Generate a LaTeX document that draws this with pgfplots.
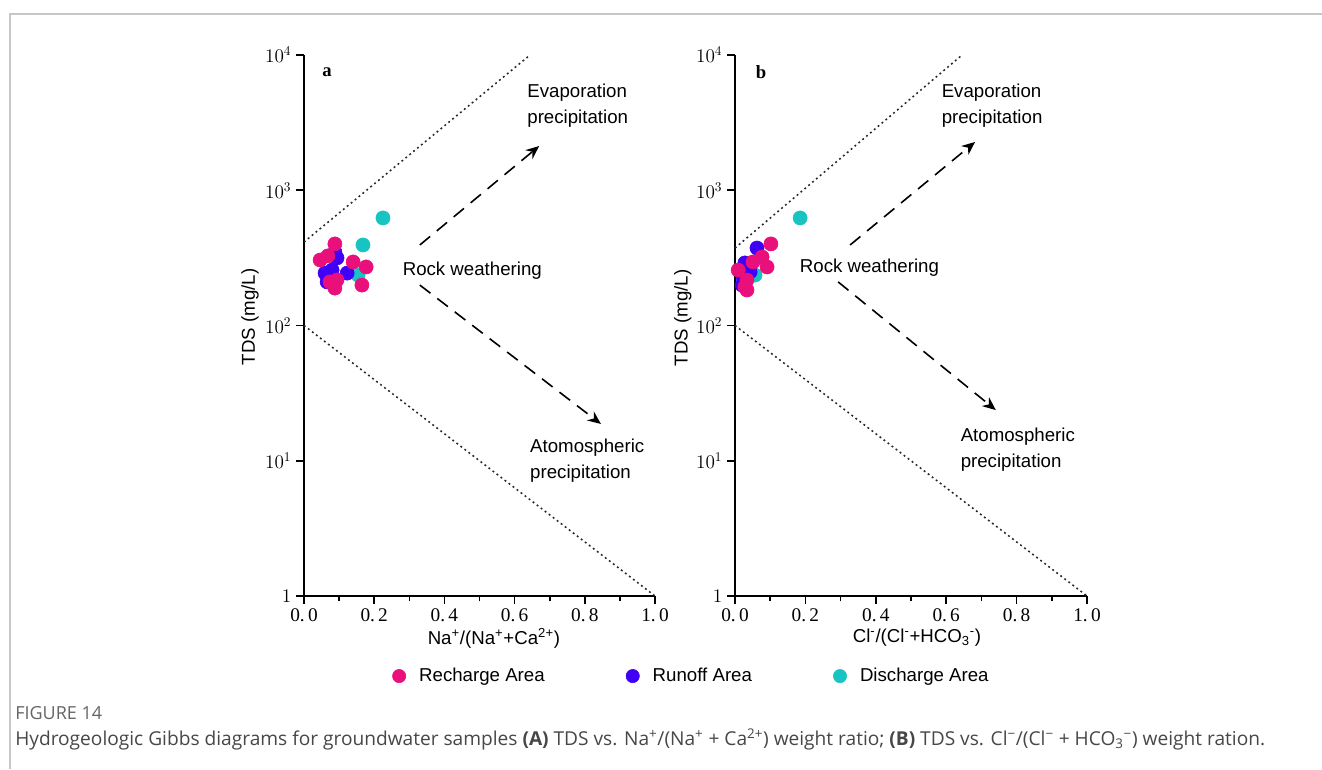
\documentclass[border=0pt]{standalone}
\usepackage{fontspec}
\setmainfont{Liberation Sans}
\newfontfamily\capfont{Open Sans}
\newfontfamily\serifnum{Liberation Serif}
\usepackage{pgfplots}
\pgfplotsset{compat=1.18}
\usetikzlibrary{arrows.meta}
\definecolor{recharge}{RGB}{234,16,124}
\definecolor{runoff}{RGB}{64,0,245}
\definecolor{discharge}{RGB}{24,196,194}
\tikzset{
  gdots/.style={dash pattern=on 1.4pt off 2.4pt, line width=1.15pt, black!85},
  garr/.style={dash pattern=on 10pt off 6.5pt, line width=1.2pt, black, -{Stealth[length=10pt,width=8.5pt]}},
}
\begin{document}
\begin{tikzpicture}
\useasboundingbox (0,0) rectangle (991.5pt,576.75pt);
\fill[white] (0,0) rectangle (991.5pt,576.75pt);
\draw[black!22, line width=0.8pt] (7.5pt,0) -- (7.5pt,566.25pt) -- (991.5pt,566.25pt);

% ---------------- panel a ----------------
\begin{axis}[at={(228pt,129.75pt)}, anchor=south west,
  scale only axis, width=263.25pt, height=405.75pt,
  ymode=log, xmin=0, xmax=1, ymin=1, ymax=10000,
  axis x line=bottom, axis y line=left,
  axis line style={-, line width=1.4pt},
  clip=false,
  xtick={0,0.2,0.4,0.6,0.8,1},
  minor xtick={0.1,0.3,0.5,0.7,0.9},
  xticklabels={0.\,0,0.\,2,0.\,4,0.\,6,0.\,8,1.\,0},
  ytick={1,10,100,1000,10000},
  yticklabels={$1$,$10^{1}$,$10^{2}$,$10^{3}$,$10^{4}$},
  yminorticks=false,
  tick align=outside,
  major tick length=6pt, minor tick length=4pt,
  tick style={black, line width=1.2pt},
  xticklabel style={font=\serifnum\fontsize{14.5}{16}\selectfont},
  yticklabel style={font=\fontsize{14}{15}\selectfont},
  label style={font=\fontsize{14}{16}\selectfont},
  ylabel={TDS (mg/L)},
  xlabel={Na\textsuperscript{+}/(Na\textsuperscript{+}+Ca\textsuperscript{2+})},
  xlabel style={at={(axis description cs:0.541,-0.0776)}, anchor=center},
  ylabel style={at={(axis description cs:-0.154,0.516)}, anchor=center},
  legend columns=3,
  legend style={at={(axis description cs:0.24,-0.148)}, anchor=west, draw=none, fill=none,
    font=\fontsize{14}{16}\selectfont, column sep=0pt,
    /tikz/every odd column/.append style={column sep=8pt},
    /tikz/every even column/.append style={column sep=59pt}},
]
\addplot[gdots, forget plot] coordinates {(0,414) (0.644,10000)};
\addplot[gdots, forget plot] coordinates {(0,100) (1,1)};
\addplot[garr, forget plot] coordinates {(0.330,394) (0.670,2123)};
\addplot[garr, forget plot] coordinates {(0.330,199) (0.846,18.7)};
\addplot[only marks, mark=*, mark size=5.3pt, color=discharge, forget plot] coordinates {(0.225,624) (0.168,394) (0.154,236)};
\addplot[only marks, mark=*, mark size=5.3pt, color=runoff, forget plot] coordinates {(0.094,316) (0.088,349) (0.060,244) (0.066,210) (0.123,244) (0.080,257)};
\addplot[only marks, mark=*, mark size=5.3pt, color=recharge, forget plot] coordinates {(0.088,401) (0.046,305) (0.068,327) (0.140,295) (0.177,271) (0.094,217) (0.088,189) (0.165,199) (0.074,210)};
\addlegendimage{only marks, mark=*, mark size=5pt, color=recharge}\addlegendentry{Recharge Area}
\addlegendimage{only marks, mark=*, mark size=5pt, color=runoff}\addlegendentry{Runoff Area}
\addlegendimage{only marks, mark=*, mark size=5pt, color=discharge}\addlegendentry{Discharge Area}
\node[font=\serifnum\bfseries\fontsize{14}{16}\selectfont] at (rel axis cs:0.066,0.969) {a};
\node[font=\fontsize{14}{19.5}\selectfont, align=left, anchor=west] at (rel axis cs:0.623,0.906) {Evaporation\\precipitation};
\node[font=\fontsize{14}{19.5}\selectfont, anchor=west] at (rel axis cs:0.268,0.601) {Rock weathering};
\node[font=\fontsize{14}{19.5}\selectfont, align=left, anchor=west] at (rel axis cs:0.631,0.251) {Atomospheric\\precipitation};
\end{axis}

% ---------------- panel b ----------------
\begin{axis}[at={(551.25pt,129.75pt)}, anchor=south west,
  scale only axis, width=264pt, height=405.75pt,
  ymode=log, xmin=0, xmax=1, ymin=1, ymax=10000,
  axis x line=bottom, axis y line=left,
  axis line style={-, line width=1.4pt},
  clip=false,
  xtick={0,0.2,0.4,0.6,0.8,1},
  minor xtick={0.1,0.3,0.5,0.7,0.9},
  xticklabels={0.\,0,0.\,2,0.\,4,0.\,6,0.\,8,1.\,0},
  ytick={1,10,100,1000,10000},
  yticklabels={$1$,$10^{1}$,$10^{2}$,$10^{3}$,$10^{4}$},
  yminorticks=false,
  tick align=outside,
  major tick length=6pt, minor tick length=4pt,
  tick style={black, line width=1.2pt},
  xticklabel style={font=\serifnum\fontsize{14.5}{16}\selectfont},
  yticklabel style={font=\fontsize{14}{15}\selectfont},
  label style={font=\fontsize{14}{16}\selectfont},
  ylabel={TDS (mg/L)},
  xlabel={Cl\textsuperscript{-}/(Cl\textsuperscript{-}+HCO\textsubscript{3}\textsuperscript{-})},
  xlabel style={at={(axis description cs:0.517,-0.0776)}, anchor=center},
  ylabel style={at={(axis description cs:-0.148,0.514)}, anchor=center},
]
\addplot[gdots, forget plot] coordinates {(0,374) (0.645,10000)};
\addplot[gdots, forget plot] coordinates {(0,100) (1,1)};
\addplot[garr, forget plot] coordinates {(0.327,394) (0.682,2275)};
\addplot[garr, forget plot] coordinates {(0.293,210) (0.741,23.7)};
\addplot[only marks, mark=*, mark size=5.3pt, color=discharge] coordinates {(0.185,624) (0.057,236)};
\addplot[only marks, mark=*, mark size=5.3pt, color=runoff] coordinates {(0.0625,374) (0.028,290) (0.043,249) (0.023,229) (0.020,199)};
\addplot[only marks, mark=*, mark size=5.3pt, color=recharge] coordinates {(0.102,401) (0.077,321) (0.091,271) (0.051,295) (0.009,257) (0.034,217) (0.028,193) (0.034,183)};
\node[font=\serifnum\bfseries\fontsize{14}{16}\selectfont] at (rel axis cs:0.074,0.969) {b};
\node[font=\fontsize{14}{19.5}\selectfont, align=left, anchor=west] at (rel axis cs:0.574,0.906) {Evaporation\\precipitation};
\node[font=\fontsize{14}{19.5}\selectfont, anchor=west] at (rel axis cs:0.171,0.606) {Rock weathering};
\node[font=\fontsize{14}{19.5}\selectfont, align=left, anchor=west] at (rel axis cs:0.628,0.271) {Atomospheric\\precipitation};
\end{axis}

\node[anchor=west, inner sep=0pt, font=\capfont\fontsize{13.5}{15}\selectfont, text=black!60] at (11.25pt,42pt) {FIGURE 14};
\node[anchor=west, inner sep=0pt, font=\capfont\fontsize{14.35}{16}\selectfont, text=black!72] at (11.25pt,22.5pt) {Hydrogeologic Gibbs diagrams for groundwater samples \textbf{(A)} TDS vs. Na\textsuperscript{+}/(Na\textsuperscript{+} + Ca\textsuperscript{2+}) weight ratio; \textbf{(B)} TDS vs. Cl\textsuperscript{−}/(Cl\textsuperscript{−} + HCO\textsubscript{3}\textsuperscript{−}) weight ration.};
\end{tikzpicture}
\end{document}
